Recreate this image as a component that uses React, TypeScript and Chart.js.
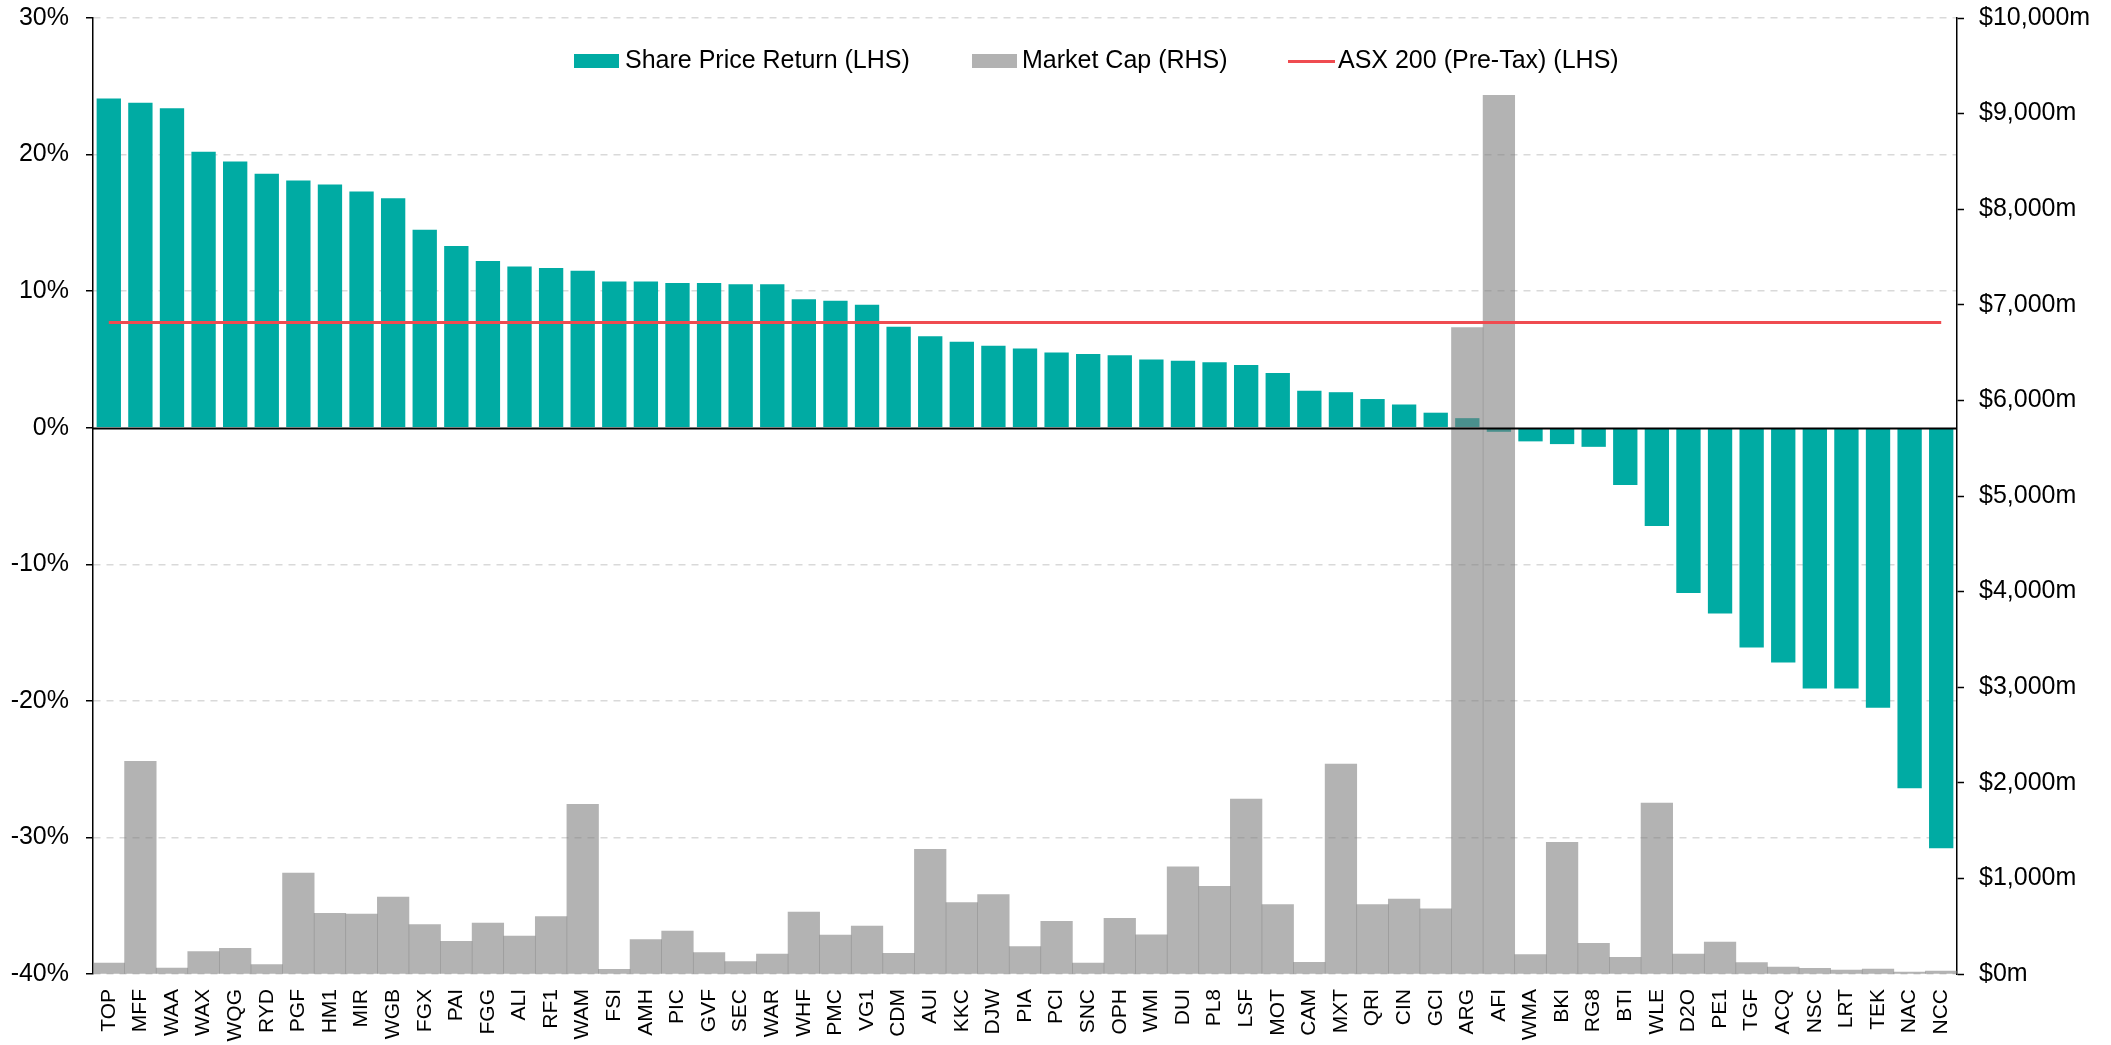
import React, { useEffect, useRef } from "react";
import { Chart, registerables } from "chart.js";

Chart.register(...registerables);

const categories = [
  "TOP", "MFF", "WAA", "WAX", "WQG", "RYD", "PGF", "HM1", "MIR", "WGB",
  "FGX", "PAI", "FGG", "ALI", "RF1", "WAM", "FSI", "AMH", "PIC", "GVF",
  "SEC", "WAR", "WHF", "PMC", "VG1", "CDM", "AUI", "KKC", "DJW", "PIA",
  "PCI", "SNC", "OPH", "WMI", "DUI", "PL8", "LSF", "MOT", "CAM", "MXT",
  "QRI", "CIN", "GCI", "ARG", "AFI", "WMA", "BKI", "RG8", "BTI", "WLE",
  "D2O", "PE1", "TGF", "ACQ", "NSC", "LRT", "TEK", "NAC", "NCC",
];

const shareReturn = [
  24.1, 23.8, 23.4, 20.2, 19.5, 18.6, 18.1, 17.8, 17.3, 16.8,
  14.5, 13.3, 12.2, 11.8, 11.7, 11.5, 10.7, 10.7, 10.6, 10.6,
  10.5, 10.5, 9.4, 9.3, 9.0, 7.4, 6.7, 6.3, 6.0, 5.8,
  5.5, 5.4, 5.3, 5.0, 4.9, 4.8, 4.6, 4.0, 2.7, 2.6,
  2.1, 1.7, 1.1, 0.7, -0.3, -1.0, -1.2, -1.4, -4.2, -7.2,
  -12.1, -13.6, -16.1, -17.2, -19.1, -19.1, -20.5, -26.4, -30.8,
];

const marketCap = [
  115, 2224, 63, 234, 268, 98, 1056, 634, 627, 805,
  516, 342, 533, 397, 600, 1774, 49, 359, 450, 223,
  129, 209, 648, 408, 502, 216, 1304, 746, 830, 286,
  551, 115, 582, 411, 1122, 917, 1830, 725, 122, 2196,
  725, 784, 683, 6762, 9192, 202, 1377, 321, 174, 1788,
  209, 335, 119, 73, 59, 42, 52, 21, 31,
];

const asx200Return = 7.7;

const leftTicks = { min: -40, max: 30, step: 10 };
const rightTicks = { min: 0, max: 10000, step: 1000 };

const seriesLabels = ["Share Price Return (LHS)", "Market Cap (RHS)", "ASX 200 (Pre-Tax) (LHS)"];

const TEAL = "#00ABA3";
const GREY = "rgba(126,126,126,0.59)";
const GREY_LEGEND = "#B2B2B2";
const RED = "#EF4B50";
const FONT = "'Liberation Sans', Arial, sans-serif";

const zeroLinePlugin = {
  id: "zeroLine",
  afterDatasetsDraw(chart: any) {
    const y = chart.scales.y;
    const area = chart.chartArea;
    const py = Math.round(y.getPixelForValue(0)) + 0.5;
    const ctx = chart.ctx;
    ctx.save();
    ctx.strokeStyle = "#000";
    ctx.lineWidth = 2;
    ctx.beginPath();
    ctx.moveTo(area.left, py);
    ctx.lineTo(area.right, py);
    ctx.stroke();
    ctx.restore();
  },
};

export default function App() {
  const canvasRef = useRef<HTMLCanvasElement | null>(null);

  useEffect(() => {
    if (!canvasRef.current) return;
    const noPad = (s: any) => {
      s.paddingTop = 0;
      s.paddingBottom = 0;
    };
    const chart = new Chart(canvasRef.current, {
      type: "bar",
      data: {
        labels: categories,
        datasets: [
          {
            type: "bar",
            label: seriesLabels[0],
            data: shareReturn,
            backgroundColor: TEAL,
            yAxisID: "y",
            grouped: false,
            barPercentage: 0.77,
            categoryPercentage: 1,
            order: 2,
          },
          {
            type: "bar",
            label: seriesLabels[1],
            data: marketCap,
            backgroundColor: GREY,
            yAxisID: "y1",
            grouped: false,
            barPercentage: 1,
            categoryPercentage: 1,
            order: 1,
          },
          {
            type: "line",
            label: seriesLabels[2],
            data: categories.map(() => asx200Return),
            borderColor: RED,
            backgroundColor: RED,
            borderWidth: 3,
            pointRadius: 0,
            yAxisID: "y",
            order: 0,
          },
        ] as any,
      },
      options: {
        animation: false,
        responsive: true,
        maintainAspectRatio: false,
        layout: { padding: { top: 18, left: 0, right: 0, bottom: 0 } },
        plugins: {
          legend: { display: false },
          tooltip: { enabled: false },
        },
        scales: {
          x: {
            offset: true,
            grid: { display: false, drawTicks: false },
            border: { display: false },
            ticks: {
              autoSkip: false,
              maxRotation: 90,
              minRotation: 90,
              padding: 15,
              color: "#000",
              font: { family: FONT, size: 21 },
            },
            afterFit: (s: any) => {
              s.height = 71;
            },
          },
          y: {
            position: "left",
            min: leftTicks.min,
            max: leftTicks.max,
            ticks: {
              stepSize: leftTicks.step,
              padding: 17,
              color: "#000",
              font: { family: FONT, size: 25 },
              callback: (v: any) => `${v}%`,
            },
            grid: {
              color: (ctx: any) => (ctx.tick && ctx.tick.value === 0 ? "rgba(0,0,0,0)" : "#D9D9D9"),
              lineWidth: 1.5,
              drawTicks: true,
              tickLength: 7,
              tickColor: "#000",
              tickWidth: 1.5,
            },
            border: { display: true, color: "#000", width: 1.5, dash: [7, 6] },
            afterFit: (s: any) => {
              s.width = 93;
              noPad(s);
            },
          },
          y1: {
            position: "right",
            min: rightTicks.min,
            max: rightTicks.max,
            ticks: {
              stepSize: rightTicks.step,
              padding: 15,
              color: "#000",
              font: { family: FONT, size: 25 },
              callback: (v: any) => `$${Number(v).toLocaleString("en-US")}m`,
            },
            grid: {
              drawOnChartArea: false,
              drawTicks: true,
              tickLength: 7,
              color: "#000",
              tickColor: "#000",
              tickWidth: 1.5,
            },
            border: { display: true, color: "#000", width: 1.5 },
            afterFit: (s: any) => {
              s.width = 154;
              noPad(s);
            },
          },
        },
      } as any,
      plugins: [zeroLinePlugin],
    });
    return () => chart.destroy();
  }, []);

  const textStyle: React.CSSProperties = {
    position: "absolute",
    top: 47,
    fontFamily: FONT,
    fontSize: 25,
    lineHeight: "25px",
    color: "#000",
    whiteSpace: "nowrap",
  };

  return (
    <div style={{ position: "fixed", left: 0, top: 0, width: 2111, height: 1045, background: "#fff" }}>
      <canvas ref={canvasRef} style={{ width: "100%", height: "100%" }} />
      <div style={{ position: "absolute", left: 574, top: 54, width: 45, height: 14, background: TEAL }} />
      <span style={{ ...textStyle, left: 625 }}>{seriesLabels[0]}</span>
      <div style={{ position: "absolute", left: 972, top: 54, width: 45, height: 14, background: GREY_LEGEND }} />
      <span style={{ ...textStyle, left: 1022 }}>{seriesLabels[1]}</span>
      <div style={{ position: "absolute", left: 1288, top: 59.5, width: 47, height: 3, background: RED }} />
      <span style={{ ...textStyle, left: 1338 }}>{seriesLabels[2]}</span>
    </div>
  );
}
